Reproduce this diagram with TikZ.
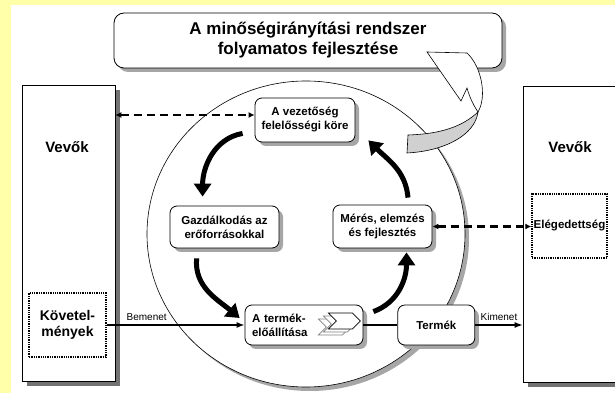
\documentclass[tikz,border=0pt]{standalone}
\usepackage{fontspec}
\setmainfont{Liberation Sans}
\usetikzlibrary{positioning,arrows.meta,shadows,shapes.geometric}
\definecolor{hatter}{RGB}{255,255,170}
\definecolor{nyilszurke}{RGB}{208,208,208}

\begin{document}
\begin{tikzpicture}[
  x=1pt, y=1pt,
  node distance=34pt,
  doboz/.style={
    rounded corners=7pt,
    draw=black,
    line width=0.8pt,
    fill=white,
    align=center,
    inner sep=2pt,
    font=\fontsize{11.5}{14}\selectfont\bfseries,
    drop shadow={shadow xshift=4pt, shadow yshift=-4pt, fill=black!35, opacity=1}
  },
  vevo/.style={draw=black, line width=0.6pt, fill=white, minimum width=93pt, minimum height=296pt,
    drop shadow={shadow xshift=5pt, shadow yshift=-5pt, fill=black!55, opacity=1}},
  pontozott/.style={draw=black, densely dotted, line width=1.3pt, fill=white, align=center},
  cim/.style={font=\fontsize{15}{18}\selectfont\bfseries},
  felirat/.style={font=\fontsize{10}{12}\selectfont},
  szaggatott/.style={{Latex[length=6pt,width=6pt]}-{Latex[length=6pt,width=6pt]}, dash pattern=on 8pt off 5pt, line width=2.6pt},
  folyam/.style={-{Latex[length=8pt,width=6pt]}, line width=1.4pt},
  korny/.style={-{Triangle[width=17pt,length=13pt]}, line width=5pt}
]
\useasboundingbox (0,0) rectangle (615,393);
\fill[hatter] (0,0) rectangle (615,393);
\fill[white] (11,0) rectangle (615,388);

% Vevők oldalt
\node[vevo] (vevoL) at (68.5,160) {};
\node[vevo, minimum width=110pt] (vevoR) at (578,159) {};
\node[cim] (vevoLcim) at (67,246) {Vevők};
\node[cim] (vevoRcim) at (570,246) {Vevők};

% a nagy kör
\node[ellipse, draw, line width=0.6pt, fill=white, minimum width=318pt, minimum height=306pt,
  drop shadow={shadow xshift=4pt, shadow yshift=-4pt, fill=black!35, opacity=1}] (kor) at (306,159) {};

% cím
\node[doboz, rounded corners=10pt, minimum width=388pt, minimum height=55pt,
  font=\fontsize{17}{20}\selectfont\bfseries] (cimdoboz) at (308,352.5)
  {A minőségirányítási rendszer\\folyamatos fejlesztése};

% folyamatok
\node[doboz, minimum width=100pt, minimum height=44pt] (vez) at (305,273) {A vezetőség\\felelősségi köre};
\node[doboz, minimum width=109pt, minimum height=42pt] (gaz) at (224.5,166) {Gazdálkodás az\\erőforrásokkal};
\node[doboz, minimum width=99pt, minimum height=43pt] (mer) at (382.5,166.5) {Mérés, elemzés\\és fejlesztés};
\node[doboz, minimum height=40pt, text width=104pt, align=left, inner xsep=7pt] (tel) at (304,68) {A termék-\\előállítása};
\node[doboz, minimum width=77pt, minimum height=40pt, right=of tel] (term) {Termék};

\node[pontozott, minimum width=77pt, minimum height=64pt, font=\fontsize{14}{16}\selectfont\bfseries] (kov) at (67.5,68) {Követel-\\mények};
\node[pontozott, minimum width=75pt, minimum height=64pt, inner sep=0.5pt, font=\fontsize{11.5}{14}\selectfont\bfseries] (eleg) at (569.5,167) {Elégedettség};

% chevronok
\begin{scope}[shift={(tel.east)}]
  \foreach \d/\szin in {2/black!50, 1/black!50, 0/black} {
    \draw[\szin, fill=white, line width=0.6pt, shift={(-3-5*\d, 4-3*\d)}]
      (-32,8) -- (-8,8) -- (0,0) -- (-8,-8) -- (-32,-8) -- (-24,0) -- cycle;
  }
\end{scope}

% nyilak
\coordinate (vezbal) at ([yshift=5pt]vez.west);
\draw[szaggatott] (vezbal -| vevoL.east) -- (vezbal);
\draw[szaggatott] (mer.east) -- (mer.east -| eleg.west);
\draw[folyam] (kov.east) -- (tel.west) node[felirat, above, pos=0.29] {Bemenet};
\draw[line width=1.4pt] (tel.east) -- (term.west);
\draw[folyam] (term.east) -- (term.east -| vevoR.west) node[felirat, above, pos=0.5] {Kimenet};

\draw[korny] ([xshift=-12pt,yshift=9pt]vez.south west) to[out=190,in=90] ([xshift=33pt,yshift=9pt]gaz.north west);
\draw[korny] ([xshift=27pt,yshift=-10pt]gaz.south west) to[out=265,in=140] ([xshift=-5pt,yshift=7pt]tel.west);
\draw[korny] ([xshift=10pt,yshift=-7pt]tel.north east) to[out=20,in=-90] ([xshift=24pt,yshift=-4pt]mer.south);
\draw[korny] ([xshift=25.5pt,yshift=7pt]mer.north) to[out=95,in=-45] ([xshift=13pt,yshift=2pt]vez.south east);

% a nagy szürke nyíl
\draw[line width=0.6pt, fill=white] (427,341) -- (467,340) .. controls (482,326) and (487,296) .. (478,281)
  .. controls (472,290) and (469,298) .. (467,305) -- (461,292) -- cycle;
\draw[line width=0.6pt, fill=nyilszurke] (478,281) .. controls (462,266) and (440,259) .. (408,258) -- (407,240)
  .. controls (445,242) and (475,258) .. (478,281) -- cycle;
\end{tikzpicture}
\end{document}
